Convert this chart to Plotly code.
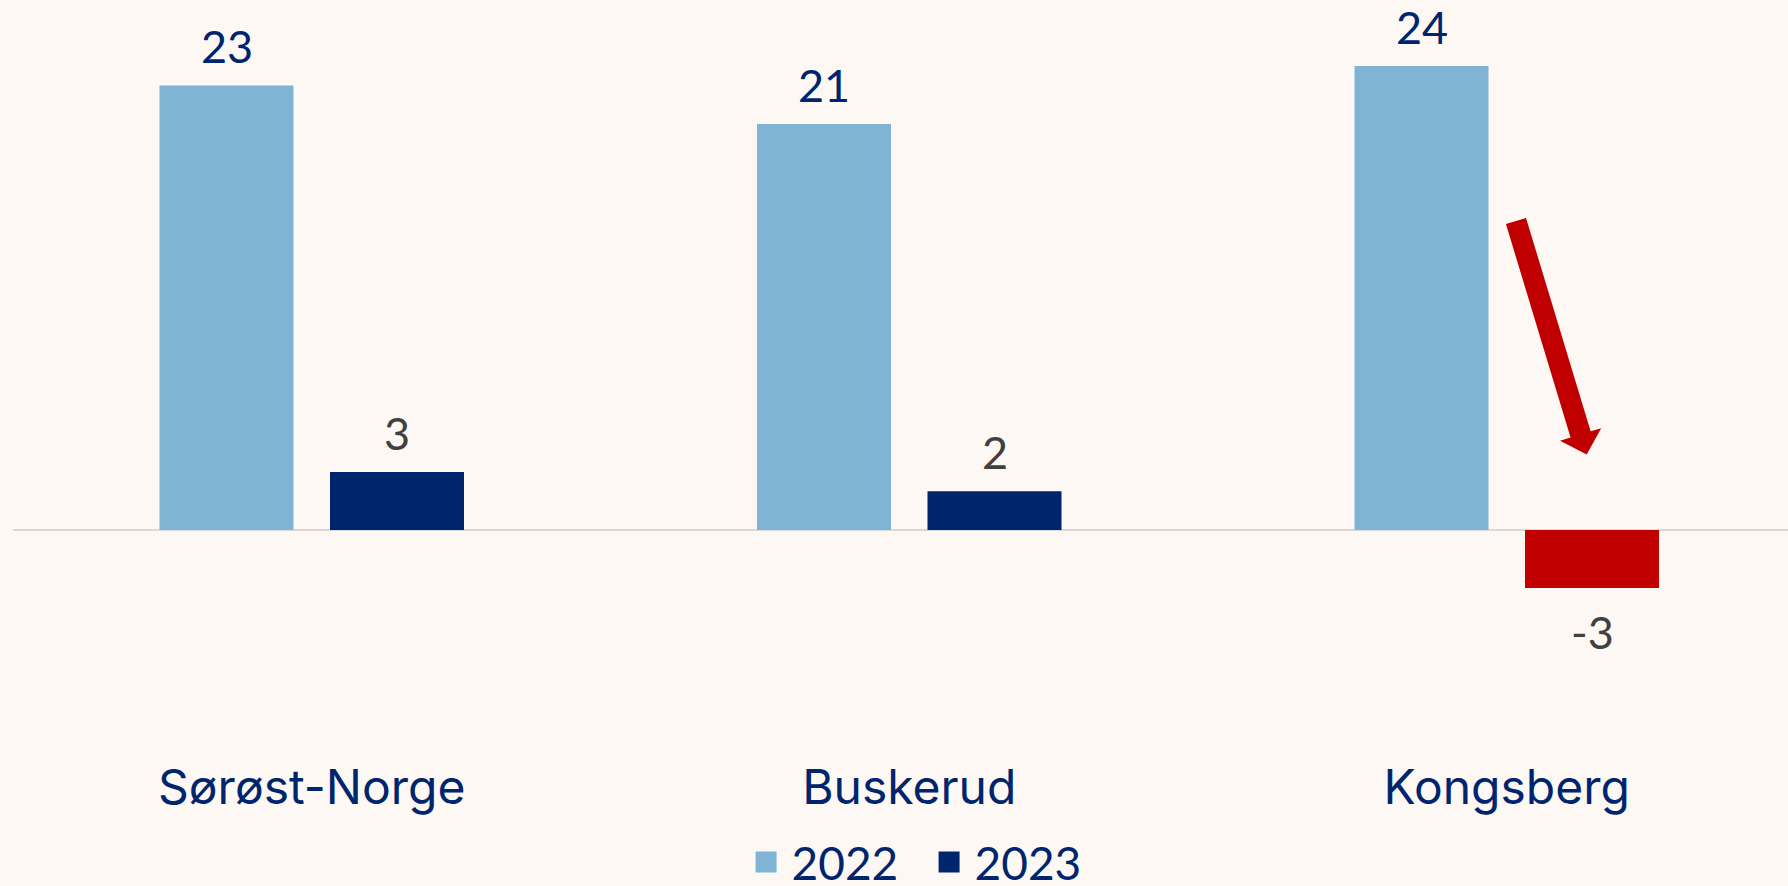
import math
import plotly.graph_objects as go

categories = ["Sørøst-Norge", "Buskerud", "Kongsberg"]
values_2022 = [23, 21, 24]
values_2023 = [3, 2, -3]
series_names = ["2022", "2023"]

BG = "#FDF8F4"
LIGHT = "#7FB4D4"
NAVY = "#00256F"
RED = "#C00000"
GREY_TXT = "#404040"
NUMFONT = "Lato"
CATFONT = "Inter"

W, H = 1788, 886
ML, MB = 13, 131
PW, PH = W - ML, H - MB
CAT_PX = 597.5          # pixel width of one category
SLOT_PX = 170.5         # pixel width of one bar slot inside a group
PX_PER_UNIT = 19.33
ZERO_Y = 530

colors_2023 = [RED if v < 0 else NAVY for v in values_2023]

fig = go.Figure()
fig.add_trace(go.Bar(
    name=series_names[0], x=categories, y=values_2022,
    marker=dict(color=LIGHT, line=dict(width=0)), showlegend=False,
))
fig.add_trace(go.Bar(
    name=series_names[1], x=categories, y=values_2023,
    marker=dict(color=colors_2023, line=dict(width=0)), showlegend=False,
))
# legend entries with larger square swatches
for name, col in zip(series_names, [LIGHT, NAVY]):
    fig.add_trace(go.Scatter(
        name=name, x=[None], y=[None], mode="markers",
        marker=dict(symbol="square", size=16, color=col, line=dict(color=col, width=5)),
        showlegend=True, hoverinfo="skip",
    ))

# value labels, anchored to each bar's value
for vals, shift, col in [(values_2022, -SLOT_PX / 2, NAVY), (values_2023, SLOT_PX / 2, GREY_TXT)]:
    for c, v in zip(categories, vals):
        fig.add_annotation(
            x=c, y=v, xref="x", yref="y", text=str(v), showarrow=False,
            xshift=shift, yshift=39 if v >= 0 else -44,
            xanchor="center", yanchor="middle",
            font=dict(family=NUMFONT, size=45, color=col),
        )

# downward arrow for Kongsberg (pixel geometry -> paper coordinates)
tail = (1516.0, 221.0)
tip = (1586.7, 454.5)
dx, dy = tip[0] - tail[0], tip[1] - tail[1]
L = math.hypot(dx, dy)
ux, uy = dx / L, dy / L
nx, ny = uy, -ux
shaft_hw, head_hw, head_len = 10.5, 21.5, 21.0
bx, by = tip[0] - head_len * ux, tip[1] - head_len * uy
pts = [
    (tail[0] + shaft_hw * nx, tail[1] + shaft_hw * ny),
    (bx + shaft_hw * nx, by + shaft_hw * ny),
    (bx + head_hw * nx, by + head_hw * ny),
    tip,
    (bx - head_hw * nx, by - head_hw * ny),
    (bx - shaft_hw * nx, by - shaft_hw * ny),
    (tail[0] - shaft_hw * nx, tail[1] - shaft_hw * ny),
]
to_paper = lambda p: ((p[0] - ML) / PW, (PH - p[1]) / PH)
path = "M" + " L".join("%.5f,%.5f" % to_paper(p) for p in pts) + " Z"
fig.add_shape(type="path", xref="paper", yref="paper", path=path,
              fillcolor=RED, line=dict(width=0))

fig.update_layout(
    width=W, height=H,
    paper_bgcolor=BG, plot_bgcolor=BG,
    margin=dict(l=ML, r=0, t=0, b=MB),
    barmode="group", bargap=1 - 2 * SLOT_PX / CAT_PX, bargroupgap=36.5 / SLOT_PX,
    font=dict(family=CATFONT, color=NAVY),
    showlegend=True,
    legend=dict(orientation="h", x=0.513, xanchor="center",
                yref="container", y=(H - 862) / H, yanchor="middle",
                itemwidth=41, itemsizing="trace", entrywidth=127,
                font=dict(family=NUMFONT, size=46, color=NAVY), bgcolor="rgba(0,0,0,0)"),
    xaxis=dict(range=[-0.5, -0.5 + PW / CAT_PX], showline=False, ticks="",
               showgrid=False, tickfont=dict(family=CATFONT, size=48, color=NAVY)),
    yaxis=dict(range=[-(PH - ZERO_Y) / PX_PER_UNIT, ZERO_Y / PX_PER_UNIT], showgrid=False,
               showticklabels=False, zeroline=True, zerolinecolor="#D9D9D9",
               zerolinewidth=2, showline=False),
)

fig.write_html(
    "out.html",
    config={"displayModeBar": False},
    post_script="document.body.style.margin='0';document.body.style.background='%s';" % BG,
)
